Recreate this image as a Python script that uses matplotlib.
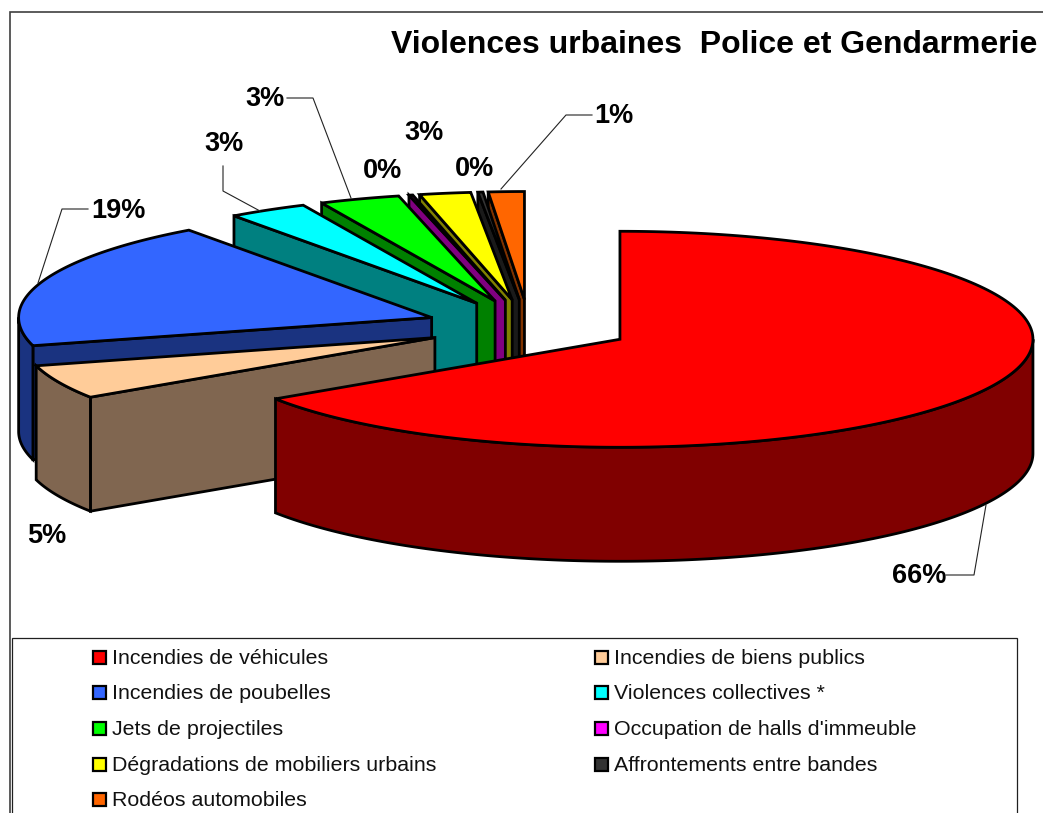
import numpy as np
import matplotlib
matplotlib.use("Agg")
import matplotlib.pyplot as plt
from matplotlib.patches import Polygon, Rectangle

plt.rcParams['font.family'] = ['Liberation Sans', 'DejaVu Sans']

title = "Violences urbaines  Police et Gendarmerie"
categories = ["Incendies de véhicules", "Incendies de biens publics", "Incendies de poubelles",
              "Violences collectives *", "Jets de projectiles", "Occupation de halls d'immeuble",
              "Dégradations de mobiliers urbains", "Affrontements entre bandes", "Rodéos automobiles"]
values = [65.7, 5.1, 19.2, 3.1, 3.15, 0.15, 2.0, 0.2, 1.4]
pct_labels = ["66%", "5%", "19%", "3%", "3%", "0%", "3%", "0%", "1%"]
colors = ["#FF0000", "#FFCC99", "#3366FF", "#00FFFF", "#00FF00", "#FF00FF", "#FFFF00", "#333333", "#FF6600"]
side_colors = ["#800000", "#806650", "#1A3380", "#008080", "#008000", "#800080", "#808000", "#1A1A1A", "#803300"]

# pie geometry, in pixels
cx, cy = 529, 326.5
rx, ry = 413, 108
depth = 114
explode = 0.25
lw = 2.0


def ell(a, ox, oy):
    # a is in degrees clockwise from the top
    a = np.radians(a)
    return np.column_stack([ox + rx * np.sin(a), oy - ry * np.cos(a)])


fig = plt.figure(figsize=(10.43, 8.13), dpi=100)
ax = fig.add_axes([0, 0, 1, 1])
ax.set_xlim(0, 1043)
ax.set_ylim(813, 0)
ax.axis("off")

# outer frame and legend box
ax.add_patch(Rectangle((9.5, 12), 1100, 900, fc="white", ec="#404040", lw=1.2, zorder=0))
ax.add_patch(Rectangle((12, 638), 1005, 300, fc="white", ec="#202020", lw=0.9, zorder=1))

ends = np.cumsum(values) / sum(values) * 360
starts = np.r_[0, ends[:-1]]

# back slices first, red one last
for i in range(len(values) - 1, -1, -1):
    a0, a1 = starts[i], ends[i]
    mid = np.radians((a0 + a1) / 2)
    ox = cx + explode * rx * np.sin(mid)
    oy = cy - explode * ry * np.cos(mid)
    z = 10 + len(values) - i
    kw = dict(ec="black", lw=lw, joinstyle="miter", zorder=z)

    # cut face on the start edge, only seen on the left half
    if a0 > 180:
        p = ell(a0, ox, oy)[0]
        ax.add_patch(Polygon([p, (ox, oy), (ox, oy + depth), (p[0], p[1] + depth)],
                             fc=side_colors[i], **kw))

    # outer wall, seen between 90 and 270 degrees
    lo, hi = max(a0, 90), min(a1, 270)
    if hi > lo:
        arc = ell(np.linspace(lo, hi, 200), ox, oy)
        wall = np.vstack([arc, (arc + [0, depth])[::-1]])
        ax.add_patch(Polygon(wall, fc=side_colors[i], **kw))

    # top of the slice
    arc = ell(np.linspace(a0, a1, 200), ox, oy)
    ax.add_patch(Polygon(np.vstack([[(ox, oy)], arc]), fc=colors[i], **kw))

# percent labels and leader lines
label_pos = [(919, 576), (47, 536), (118, 211), (224, 144), (265, 99), (382, 171), (424, 133), (474, 169), (614, 116)]
leaders = {
    0: [(946, 575), (974, 575), (986, 505)],
    2: [(88, 209), (62, 209), (38, 283)],
    3: [(223, 166), (223, 191), (260, 211)],
    4: [(287, 98), (313, 98), (351, 198)],
    8: [(592, 115), (566, 115), (501, 189)],
}
for i, txt in enumerate(pct_labels):
    ax.text(label_pos[i][0], label_pos[i][1], txt, fontsize=19.5, fontweight="bold",
            ha="center", va="center", zorder=40)
for pts in leaders.values():
    xs, ys = zip(*pts)
    ax.plot(xs, ys, color="#222222", lw=0.8, zorder=30)

ax.text(1037, 45, title, fontsize=23, fontweight="bold", ha="right", va="center", zorder=40)

# legend, two columns
col_x = [93, 595]
row_y = [657, 692, 728, 764, 799]
for i, name in enumerate(categories):
    x = col_x[i % 2]
    y = row_y[i // 2]
    ax.add_patch(Rectangle((x, y - 6.5), 13, 13, fc=colors[i], ec="black", lw=1.6, zorder=40))
    ax.text(x + 19, y + 1.5, name, fontsize=15.4, ha="left", va="center", color="#111111", zorder=40)

fig.savefig("out.png", dpi=100)
